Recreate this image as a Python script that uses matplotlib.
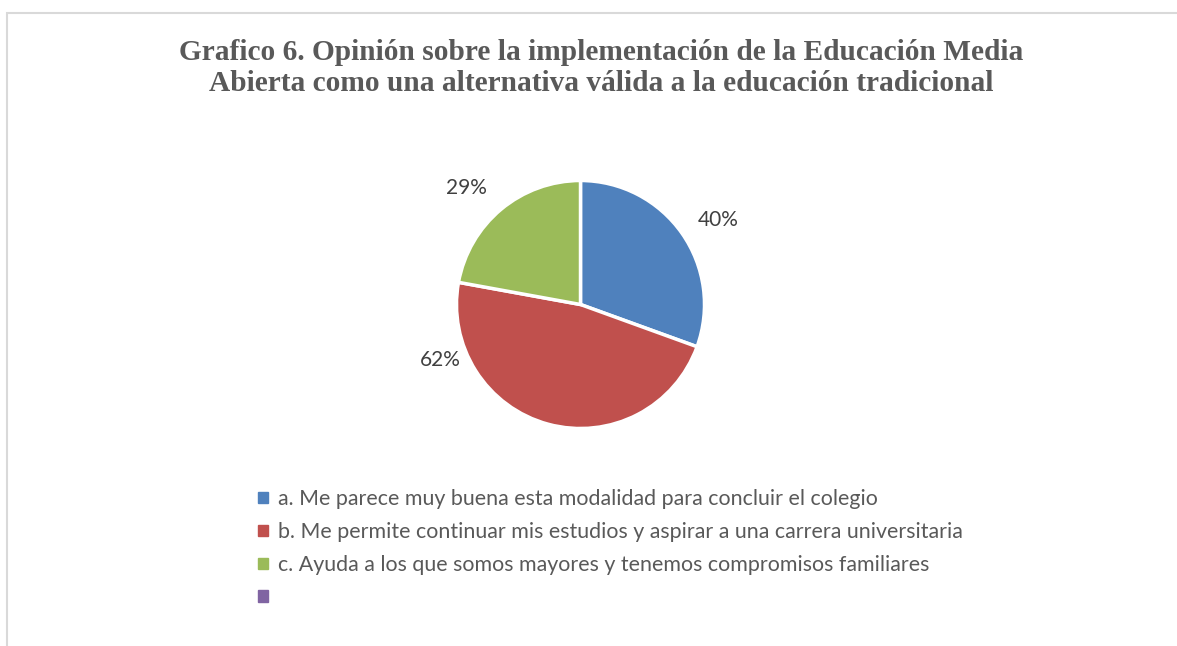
import numpy as np
import matplotlib
matplotlib.use('Agg')
import matplotlib.pyplot as plt
from matplotlib.patches import Rectangle

#### data ####

title = 'Grafico 6. Opinión sobre la implementación de la Educación Media\nAbierta como una alternativa válida a la educación tradicional'
categories = ['a. Me parece muy buena esta modalidad para concluir el colegio',
              'b. Me permite continuar mis estudios y aspirar a una carrera universitaria',
              'c. Ayuda a los que somos mayores y tenemos compromisos familiares',
              '']
values = [40, 62, 29, 0]
value_labels = ['40%', '62%', '29%', '']
colors = ['#4F81BD', '#C0504D', '#9BBB59', '#8064A2']

# label positions (in pie radius units) as placed in the original
label_pos = [(1.11, 0.68), (-1.13, -0.45), (-0.92, 0.94)]

#### figure ####

W, H = 1177, 646
fig = plt.figure(figsize=(W / 100, H / 100), dpi=100)
fig.patch.set_facecolor('white')

# chart-area border (cropped at right and bottom)
fig.patches.append(Rectangle((7 / W, -0.1), 1.2, (H - 13) / H + 0.1, transform=fig.transFigure,
                             fill=False, edgecolor='#D9D9D9', linewidth=1.5))

fig.text(601 / W, 1 - 68 / H, title, ha='center', va='center', fontsize=21.2, fontweight='bold',
         family='Liberation Serif', color='#595959', linespacing=1.2)

# pie
cx, cy, r = 580.5, 304.5, 124
ax = fig.add_axes([(cx - r) / W, 1 - (cy + r) / H, 2 * r / W, 2 * r / H])
wedges, texts = ax.pie(values[:3], colors=colors[:3], startangle=90, counterclock=False,
                       labels=value_labels[:3], labeldistance=1.2,
                       wedgeprops=dict(edgecolor='white', linewidth=2.5),
                       textprops=dict(fontsize=15, color='#404040', family='Lato'))
for t, p in zip(texts, label_pos):
    t.set_position(p)
    t.set_ha('center')
    t.set_va('center')
ax.set_xlim(-1, 1)
ax.set_ylim(-1, 1)
ax.axis('off')

# legend
handles = [Rectangle((0, 0), 1, 1, color=c) for c in colors]
leg = fig.legend(handles, categories, loc='upper left', bbox_to_anchor=(239 / W, 1 - 470 / H),
                 frameon=False, handlelength=0.45, handleheight=0.45, handletextpad=0.45,
                 labelspacing=0.6, prop=dict(family='Lato', size=15.4), labelcolor='#595959')

plt.savefig('out.png', dpi=100)
